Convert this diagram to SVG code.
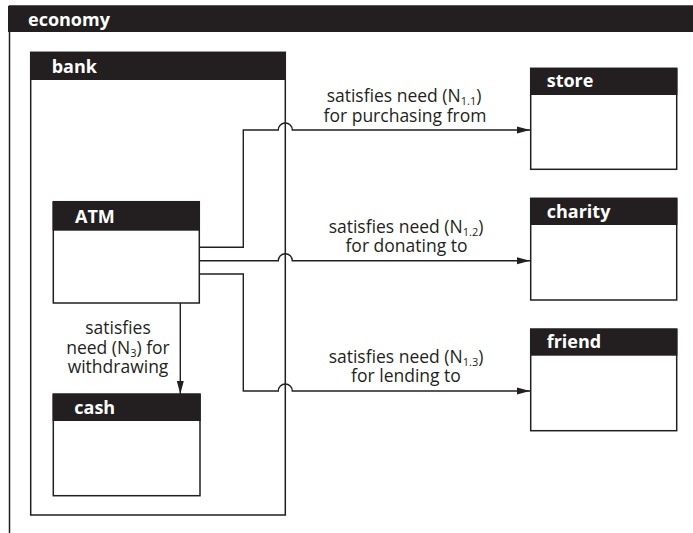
<svg xmlns="http://www.w3.org/2000/svg" width="693" height="533" viewBox="0 0 693 533">
<style>
.box{fill:#fff;stroke:#231f20;stroke-width:1.5}
.hdr{fill:#231f20}
.ht{font-family:"Open Sans","Liberation Sans",sans-serif;font-weight:bold;font-size:18px;fill:#fff}
.lbl{font-family:"Open Sans","Liberation Sans",sans-serif;font-size:17.5px;fill:#231f20;text-anchor:middle}
.sub{font-size:11px}
.con{fill:none;stroke:#231f20;stroke-width:1.4}
</style>
<defs>
<marker id="arr" markerWidth="13" markerHeight="8" refX="13" refY="4" orient="auto" markerUnits="userSpaceOnUse">
<path d="M0,0.5 L13,4 L0,7.5 Z" fill="#231f20"/>
</marker>
</defs>
<rect width="693" height="533" fill="#fff"/>
<g id="economy">
<rect class="box" x="9.5" y="6" width="700" height="600" fill="none"/>
<rect class="hdr" x="8" y="6" width="690" height="26"/>
<text class="ht" x="28" y="26">economy</text>
</g>
<g id="bank">
<rect class="box" x="30.7" y="52.3" width="254.6" height="462.7"/>
<rect class="hdr" x="30" y="52.3" width="256" height="27.7"/>
<text class="ht" x="51.7" y="72.7">bank</text>
</g>
<g id="atm">
<rect class="box" x="53.3" y="201.7" width="146" height="101.3"/>
<rect class="hdr" x="52.6" y="201.7" width="147.4" height="29"/>
<text class="ht" x="75" y="223.3">ATM</text>
</g>
<g id="cash">
<rect class="box" x="53.3" y="394" width="146.7" height="101.7"/>
<rect class="hdr" x="52.6" y="394" width="148.1" height="27"/>
<text class="ht" x="74.3" y="414">cash</text>
</g>
<g id="store">
<rect class="box" x="530.7" y="68.3" width="146" height="101"/>
<rect class="hdr" x="530" y="68.3" width="147.4" height="26.7"/>
<text class="ht" x="546.7" y="87.3">store</text>
</g>
<g id="charity">
<rect class="box" x="530.7" y="198.3" width="146" height="101.7"/>
<rect class="hdr" x="530" y="198.3" width="147.4" height="26.7"/>
<text class="ht" x="546.7" y="218.3">charity</text>
</g>
<g id="friend">
<rect class="box" x="530.7" y="329" width="146" height="101.7"/>
<rect class="hdr" x="530" y="329" width="147.4" height="26.7"/>
<text class="ht" x="546.7" y="348.3">friend</text>
</g>
<g id="connectors">
<path class="con" d="M199.3,247.3 H243.3 V130 H278.3 A7,7 0 0 1 292.3,130 H530" marker-end="url(#arr)"/>
<path class="con" d="M199.3,260.7 H278.3 A7,7 0 0 1 292.3,260.7 H530" marker-end="url(#arr)"/>
<path class="con" d="M199.3,274 H243.3 V391 H278.3 A7,7 0 0 1 292.3,391 H530" marker-end="url(#arr)"/>
<path class="con" d="M180.3,303 V394" marker-end="url(#arr)"/>
<text class="lbl" x="404" y="101.5">satisfies need (N<tspan class="sub" dy="3">1.1</tspan><tspan dy="-3">)</tspan></text>
<text class="lbl" x="405" y="122">for purchasing from</text>
<text class="lbl" x="406" y="233.3">satisfies need (N<tspan class="sub" dy="3">1.2</tspan><tspan dy="-3">)</tspan></text>
<text class="lbl" x="406.5" y="252.3">for donating to</text>
<text class="lbl" x="406" y="363.3">satisfies need (N<tspan class="sub" dy="3">1.3</tspan><tspan dy="-3">)</tspan></text>
<text class="lbl" x="406" y="382.3">for lending to</text>
<text class="lbl" x="118" y="334">satisfies</text>
<text class="lbl" x="118" y="354.3">need (N<tspan class="sub" dy="3">3</tspan><tspan dy="-3">) for</tspan></text>
<text class="lbl" x="118" y="373.3">withdrawing</text>
</g>
</svg>
